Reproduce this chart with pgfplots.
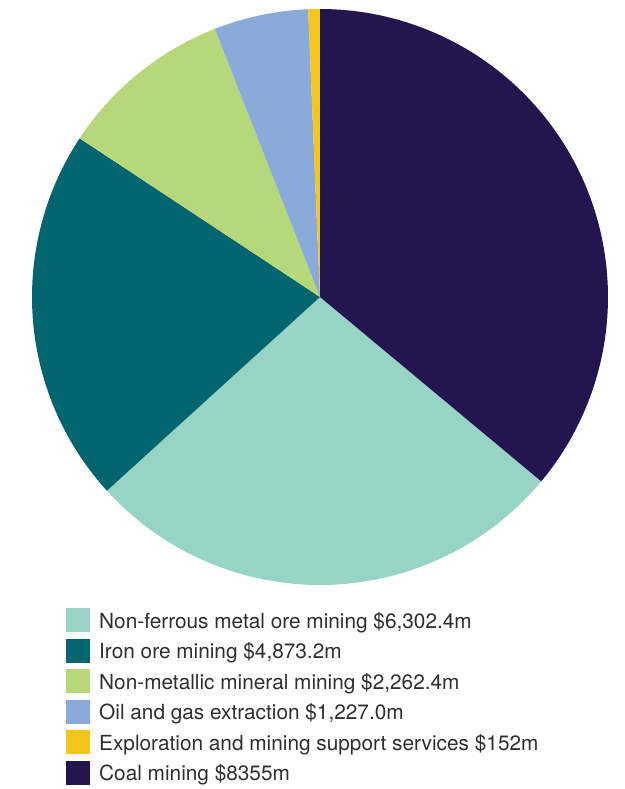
\documentclass[border=0pt]{standalone}
\usepackage{pgfplots}
\pgfplotsset{compat=1.18}
\usepackage{fontspec}
\setmainfont{TeX Gyre Heros}
\definecolor{cNF}{HTML}{97D4C5}
\definecolor{cIron}{HTML}{00656E}
\definecolor{cNM}{HTML}{B6D87B}
\definecolor{cOil}{HTML}{8AABDA}
\definecolor{cExp}{HTML}{F4C51A}
\definecolor{cCoal}{HTML}{23164F}
\definecolor{txt}{HTML}{2E2E2E}
% values ($m)
\def\vNF{6302.4}
\def\vIron{4873.2}
\def\vNM{2262.4}
\def\vOil{1227.0}
\def\vExp{152}
\def\vCoal{8355}
\pgfmathsetmacro\total{\vNF/100+\vIron/100+\vNM/100+\vOil/100+\vExp/100+\vCoal/100}
\pgfmathsetmacro\aA{90}
\pgfmathsetmacro\aB{\aA-(\vCoal/100)/\total*360}
\pgfmathsetmacro\aC{\aB-(\vNF/100)/\total*360}
\pgfmathsetmacro\aD{\aC-(\vIron/100)/\total*360}
\pgfmathsetmacro\aE{\aD-(\vNM/100)/\total*360}
\pgfmathsetmacro\aF{\aE-(\vOil/100)/\total*360}
\pgfmathsetmacro\aG{\aF-(\vExp/100)/\total*360}
\def\R{288}
\begin{document}
\begin{tikzpicture}
\useasboundingbox (0,0) rectangle (624pt,789pt);
\begin{axis}[
  at={(0,0)}, anchor=south west,
  x=1pt, y=1pt,
  xmin=-320, xmax=304, ymin=-492, ymax=297,
  hide axis, clip=false,
  legend style={at={(axis cs:-254,-311)}, anchor=north west, draw=none, fill=none,
    inner sep=0pt, row sep=6.5pt, font=\fontsize{20.8}{21}\selectfont, text=txt,
    nodes={inner sep=0pt}},
  legend cell align=left,
  legend style={cells={anchor=base west}},
  legend image code/.code={\fill[#1,draw=none] (0pt,-4pt) rectangle (24pt,20pt); \path (33pt,0pt);},
]
\addplot[fill=cNF, draw=none, domain=\aC:\aB, samples=80] ({\R*cos(x)},{\R*sin(x)}) -- (axis cs:0,0) -- cycle;
\addlegendentry{Non-ferrous metal ore mining \$6,302.4m}
\addplot[fill=cIron, draw=none, domain=\aD:\aC, samples=80] ({\R*cos(x)},{\R*sin(x)}) -- (axis cs:0,0) -- cycle;
\addlegendentry{Iron ore mining \$4,873.2m}
\addplot[fill=cNM, draw=none, domain=\aE:\aD, samples=40] ({\R*cos(x)},{\R*sin(x)}) -- (axis cs:0,0) -- cycle;
\addlegendentry{Non-metallic mineral mining \$2,262.4m}
\addplot[fill=cOil, draw=none, domain=\aF:\aE, samples=30] ({\R*cos(x)},{\R*sin(x)}) -- (axis cs:0,0) -- cycle;
\addlegendentry{Oil and gas extraction \$1,227.0m}
\addplot[fill=cExp, draw=none, domain=\aG:\aF, samples=5] ({\R*cos(x)},{\R*sin(x)}) -- (axis cs:0,0) -- cycle;
\addlegendentry{Exploration and mining support services \$152m}
\addplot[fill=cCoal, draw=none, domain=\aB:\aA, samples=100] ({\R*cos(x)},{\R*sin(x)}) -- (axis cs:0,0) -- cycle;
\addlegendentry{Coal mining \$8355m}
\end{axis}
\end{tikzpicture}
\end{document}
